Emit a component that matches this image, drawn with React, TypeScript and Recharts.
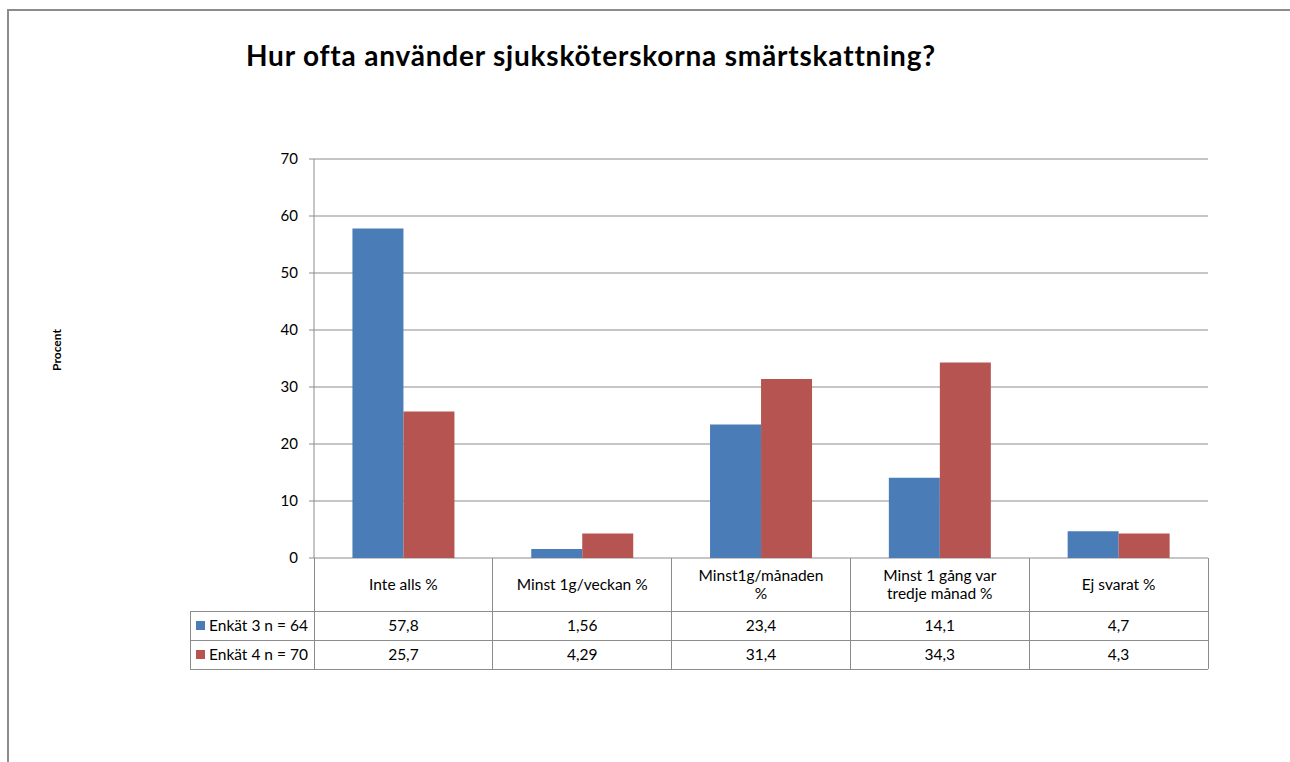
import React from "react";
import { BarChart, Bar, XAxis, YAxis, CartesianGrid } from "recharts";

const categories = [
  "Inte alls %",
  "Minst 1g/veckan %",
  "Minst1g/månaden\n%",
  "Minst 1 gång var\ntredje månad %",
  "Ej svarat %",
];
const enkat3 = [57.8, 1.56, 23.4, 14.1, 4.7];
const enkat4 = [25.7, 4.29, 31.4, 34.3, 4.3];
const seriesNames = ["Enkät 3 n = 64", "Enkät 4 n = 70"];
const yTicks = [0, 10, 20, 30, 40, 50, 60, 70];

const COLORS = ["#4A7CB8", "#B65452"];
const GRID = "#8C8C8C";
const FONT = "Lato, 'Liberation Sans', sans-serif";

const W = 1290;
const H = 762;
const PLOT_L = 314;
const PLOT_R = 1208;
const PLOT_T = 159;
const PLOT_B = 558;
const Y_AXIS_W = 60;
const TABLE_L = 190;
const HEAD_B = 611;
const ROW_H = 29;

const data = categories.map((c, i) => ({ name: c, s3: enkat3[i], s4: enkat4[i] }));
const fmt = (v: number) => String(v).replace(".", ",");

function Overlay() {
  const colW = (PLOT_R - PLOT_L) / categories.length;
  const bottom = HEAD_B + ROW_H * 2;
  const rows = [enkat3, enkat4];
  return (
    <svg width={W} height={H} style={{ position: "absolute", left: 0, top: 0, pointerEvents: "none" }}>
      <g stroke={GRID} strokeWidth={1} shapeRendering="crispEdges">
        {categories.map((_, i) => (
          <line key={i} x1={PLOT_L + colW * i} x2={PLOT_L + colW * i} y1={PLOT_B} y2={bottom} />
        ))}
        <line x1={PLOT_R} x2={PLOT_R} y1={PLOT_B} y2={bottom} />
        <line x1={TABLE_L} x2={TABLE_L} y1={HEAD_B} y2={bottom} />
        {[0, 1, 2].map(r => (
          <line key={r} x1={TABLE_L} x2={PLOT_R} y1={HEAD_B + ROW_H * r} y2={HEAD_B + ROW_H * r} />
        ))}
      </g>
      <g fontFamily={FONT} fontSize={15.5} fill="#000">
        {categories.map((c, i) => {
          const lines = c.split("\n");
          const cy = (PLOT_B + HEAD_B) / 2;
          return (
            <text key={i} x={PLOT_L + colW * (i + 0.5)} textAnchor="middle">
              {lines.map((ln, j) => (
                <tspan key={j} x={PLOT_L + colW * (i + 0.5)} y={cy + 5 + (j - (lines.length - 1) / 2) * 18}>
                  {ln}
                </tspan>
              ))}
            </text>
          );
        })}
        {rows.map((vals, r) =>
          vals.map((v, i) => (
            <text key={`${r}-${i}`} x={PLOT_L + colW * (i + 0.5)} y={HEAD_B + ROW_H * r + 20} textAnchor="middle">
              {fmt(v)}
            </text>
          ))
        )}
        {seriesNames.map((s, r) => (
          <g key={s}>
            <rect x={TABLE_L + 6} y={HEAD_B + ROW_H * r + 10} width={9} height={9} fill={COLORS[r]} />
            <text x={TABLE_L + 19} y={HEAD_B + ROW_H * r + 20}>{s}</text>
          </g>
        ))}
      </g>
      <text
        transform="translate(61 350) rotate(-90)"
        textAnchor="middle"
        fontFamily={FONT}
        fontSize={12}
        fontWeight={700}
        fill="#000"
      >
        Procent
      </text>
    </svg>
  );
}

export default function App() {
  return (
    <div style={{ position: "fixed", left: 0, top: 0, width: W, height: H, overflow: "hidden", background: "#fff" }}>
      <div style={{ position: "absolute", left: 7, top: 9, width: 1290, height: 800, border: `2px solid ${GRID}`, boxSizing: "border-box" }} />
      <div style={{ position: "absolute", left: 0, top: 0 }}>
        <BarChart
          width={W}
          height={H}
          data={data}
          margin={{ top: PLOT_T, right: W - PLOT_R, bottom: H - PLOT_B, left: PLOT_L - Y_AXIS_W }}
          barCategoryGap="21.5%"
          barGap={0}
        >
          <CartesianGrid horizontal vertical={false} stroke={GRID} strokeDasharray="" />
          <XAxis dataKey="name" hide />
          <YAxis
            width={Y_AXIS_W}
            domain={[0, 70]}
            ticks={yTicks}
            interval={0}
            axisLine={{ stroke: GRID }}
            tickLine={{ stroke: GRID }}
            tickSize={5}
            tickMargin={11}
            tick={{ fill: "#000", fontSize: 15, fontFamily: FONT }}
          />
          <Bar dataKey="s3" name={seriesNames[0]} fill={COLORS[0]} isAnimationActive={false} />
          <Bar dataKey="s4" name={seriesNames[1]} fill={COLORS[1]} isAnimationActive={false} />
        </BarChart>
      </div>
      <Overlay />
      <div
        style={{
          position: "absolute",
          left: 0,
          width: 1182,
          top: 38,
          textAlign: "center",
          fontFamily: FONT,
          fontWeight: 700,
          fontSize: 28,
          letterSpacing: 0.8,
          color: "#000",
          whiteSpace: "nowrap",
        }}
      >
        Hur ofta använder sjuksköterskorna smärtskattning?
      </div>
    </div>
  );
}
